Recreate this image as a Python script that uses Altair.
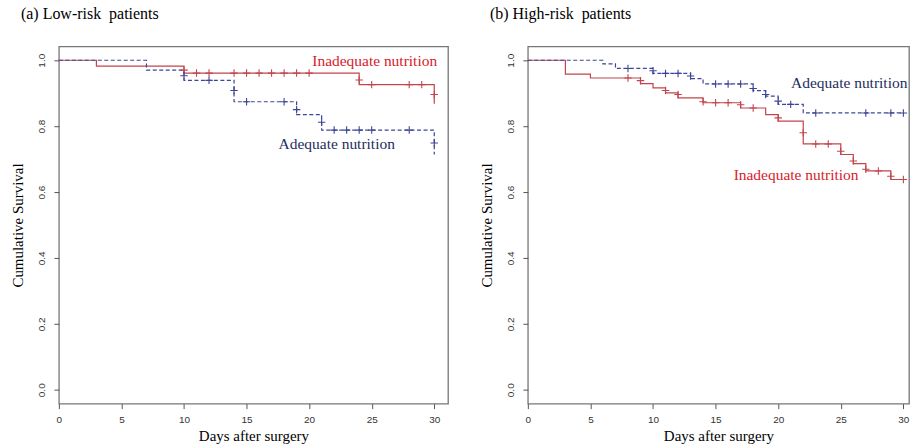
import altair as alt
import pandas as pd

# ---------------- data ----------------
# Panel (a) Low-risk patients
a_inad_t = [0, 3, 10, 24, 30]
a_inad_s = [1.0, 0.982, 0.961, 0.926, 0.868]
a_inad_ct = [10, 11, 12, 14, 15, 16, 17, 18, 19, 20, 24, 25, 28, 29, 30]
a_inad_cs = [0.970, 0.961, 0.961, 0.961, 0.961, 0.961, 0.961, 0.961, 0.961, 0.961,
             0.940, 0.926, 0.926, 0.926, 0.896]
a_adeq_t = [0, 7, 10, 14, 19, 21, 30]
a_adeq_s = [1.0, 0.970, 0.939, 0.874, 0.835, 0.788, 0.714]
a_adeq_ct = [10, 12, 14, 15, 18, 19, 21, 22, 23, 24, 25, 28, 30]
a_adeq_cs = [0.953, 0.939, 0.908, 0.874, 0.874, 0.850, 0.812, 0.788, 0.788, 0.788,
             0.788, 0.788, 0.749]

# Panel (b) High-risk patients
b_inad_t = [0, 3, 5, 9, 10, 11, 12, 14, 17, 19, 20, 22, 25, 26, 27, 29, 30]
b_inad_s = [1.0, 0.958, 0.946, 0.929, 0.916, 0.901, 0.886, 0.871, 0.855, 0.835,
            0.815, 0.746, 0.714, 0.686, 0.664, 0.638, 0.638]
b_inad_ct = [8, 9, 11, 12, 14, 15, 16, 17, 18, 20, 22, 23, 24, 25, 26, 27, 28, 29, 30]
b_inad_cs = [0.946, 0.938, 0.908, 0.896, 0.874, 0.871, 0.871, 0.865, 0.855, 0.825,
             0.780, 0.746, 0.746, 0.724, 0.694, 0.669, 0.664, 0.648, 0.638]
b_adeq_t = [0, 6, 7, 10, 13, 14, 18, 19, 20, 22, 30]
b_adeq_s = [1.0, 0.989, 0.975, 0.960, 0.944, 0.928, 0.908, 0.891, 0.866, 0.840, 0.840]
b_adeq_ct = [8, 10, 11, 12, 13, 15, 16, 17, 18, 19, 20, 21, 23, 27, 29, 30]
b_adeq_cs = [0.975, 0.968, 0.960, 0.960, 0.952, 0.928, 0.928, 0.928, 0.914, 0.896,
             0.876, 0.866, 0.840, 0.840, 0.840, 0.840]

groups = ["Inadequate nutrition", "Adequate nutrition"]
panel_titles = ["(a) Low-risk\u00a0 patients", "(b) High-risk\u00a0 patients"]
x_ticks = [0, 5, 10, 15, 20, 25, 30]
y_ticks = [0.0, 0.2, 0.4, 0.6, 0.8, 1.0]

# label anchors (days, survival) for the in-plot group labels
a_label_t = [20.25, 17.56]
a_label_s = [0.997, 0.745]
b_label_t = [16.44, 21.03]
b_label_s = [0.652, 0.930]

LINE_RED = "#c2444c"
LINE_BLUE = "#3d4596"
TEXT_RED = "#d8202a"
TEXT_BLUE = "#1e2d5c"
SERIF = "Liberation Serif, Times New Roman, serif"
SANS = "Liberation Sans, Arial, sans-serif"
PLUS = "M-1,0L1,0M0,-1L0,1"


def panel(inad_t, inad_s, inad_ct, inad_cs, adeq_t, adeq_s, adeq_ct, adeq_cs,
          label_t, label_s, title, xmax, width):
    xsc = alt.Scale(domain=[0, xmax], nice=False, zero=False)
    ysc = alt.Scale(domain=[-0.042, 1.042], nice=False, zero=False)
    xax = alt.Axis(values=x_ticks, title="Days after surgery", grid=False, domain=False,
                   tickSize=5, tickColor="#555", labelFont=SANS, labelFontSize=10,
                   labelColor="#333", labelPadding=6, titleFont=SERIF, titleFontSize=15,
                   titleFontWeight="normal", titleColor="black", titlePadding=4,
                   labelFlush=False)
    yax = alt.Axis(values=y_ticks, format=".1f", title="Cumulative Survival", grid=False,
                   domain=False, tickSize=5, tickColor="#555", labelFont=SANS,
                   labelFontSize=10, labelColor="#333", labelAngle=270,
                   labelAlign="center", labelBaseline="bottom", labelPadding=7,
                   titleFont=SERIF, titleFontSize=15, titleFontWeight="normal",
                   titleColor="black", titlePadding=11, labelFlush=False)
    X = alt.X("t:Q", scale=xsc, axis=xax)
    Y = alt.Y("s:Q", scale=ysc, axis=yax)

    inad = pd.DataFrame({"t": inad_t, "s": inad_s})
    adeq = pd.DataFrame({"t": adeq_t, "s": adeq_s})
    inad_c = pd.DataFrame({"t": inad_ct, "s": inad_cs})
    adeq_c = pd.DataFrame({"t": adeq_ct, "s": adeq_cs})
    labels = pd.DataFrame({"t": label_t, "s": label_s, "g": groups})

    l_inad = alt.Chart(inad).mark_line(interpolate="step-after", color=LINE_RED,
                                       strokeWidth=1.2).encode(x=X, y=Y)
    l_adeq = alt.Chart(adeq).mark_line(interpolate="step-after", color=LINE_BLUE,
                                       strokeWidth=1.2, strokeDash=[4, 2.5]).encode(x=X, y=Y)
    p_inad = alt.Chart(inad_c).mark_point(shape=PLUS, size=56, color=LINE_RED,
                                          filled=False, strokeWidth=1.1,
                                          opacity=1).encode(x=X, y=Y)
    p_adeq = alt.Chart(adeq_c).mark_point(shape=PLUS, size=56, color=LINE_BLUE,
                                          filled=False, strokeWidth=1.1,
                                          opacity=1).encode(x=X, y=Y)
    txt = alt.Chart(labels).mark_text(align="left", baseline="middle", font=SERIF,
                                      fontSize=15.5).encode(
        x=X, y=Y, text="g:N",
        color=alt.Color("g:N", scale=alt.Scale(domain=groups, range=[TEXT_RED, TEXT_BLUE]),
                        legend=None))
    return alt.layer(l_inad, l_adeq, p_inad, p_adeq, txt).properties(
        width=width, height=358,
        title=alt.TitleParams(title, anchor="start", frame="group", dx=-38, offset=24,
                              font=SERIF, fontSize=16, fontWeight="normal", color="black"))


left = panel(a_inad_t, a_inad_s, a_inad_ct, a_inad_cs, a_adeq_t, a_adeq_s, a_adeq_ct,
             a_adeq_cs, a_label_t, a_label_s, panel_titles[0], 31.1, 390)
right = panel(b_inad_t, b_inad_s, b_inad_ct, b_inad_cs, b_adeq_t, b_adeq_s, b_adeq_ct,
              b_adeq_cs, b_label_t, b_label_s, panel_titles[1], 30.45, 382)

chart = alt.hconcat(left, right, spacing=80, bounds="flush").properties(
    padding={"left": 10, "top": 5, "right": 0, "bottom": 2},
    background="white",
).configure_view(stroke="#777", strokeWidth=1.3)

chart.save("out.html", embed_options={"renderer": "svg", "actions": False})
